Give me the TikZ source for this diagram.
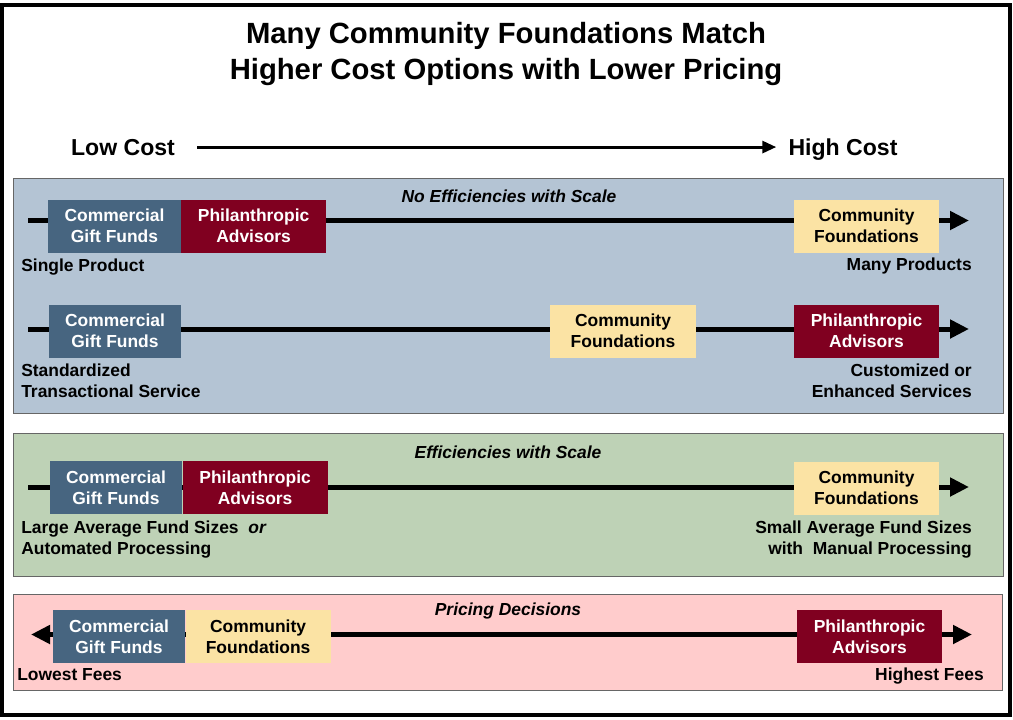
\documentclass[tikz,border=0pt]{standalone}
\usepackage{fontspec}
\setmainfont{Liberation Sans}
\usetikzlibrary{arrows.meta, positioning}

\definecolor{slate}{RGB}{71,101,128}
\definecolor{wine}{RGB}{128,0,32}
\definecolor{sand}{RGB}{251,227,164}
\definecolor{panelblue}{RGB}{180,196,212}
\definecolor{panelgreen}{RGB}{190,210,182}
\definecolor{panelpink}{RGB}{255,204,204}

\tikzset{
  lbl/.style={font=\fontsize{12.4}{15}\selectfont\bfseries, inner sep=0pt},
  hdr/.style={font=\fontsize{12.4}{15}\selectfont\bfseries\itshape, inner sep=0pt},
  cost/.style={font=\fontsize{16.4}{19}\selectfont\bfseries, inner sep=0pt, anchor=base},
  firm/.style={lbl, align=center, minimum height=1.325cm},
  commercial/.style={firm, fill=slate, text=white, minimum width=3.3cm},
  advisor/.style={firm, fill=wine, text=white, minimum width=3.625cm},
  foundation/.style={firm, fill=sand, text=black, minimum width=3.625cm},
  tip/.tip={Triangle[length=0.475cm,width=0.45cm]},
  track/.style={line width=0.125cm, -tip},
  panel/.style={draw=black!60, line width=0.6pt},
}

\begin{document}
\begin{tikzpicture}[x=0.025cm, y=-0.025cm]
  \useasboundingbox (0,0) rectangle (1013,719);
  \draw[line width=0.1cm] (2,5) rectangle (1010,715);

  % title and cost axis
  \node[font=\fontsize{20.8}{25.6}\selectfont\bfseries, align=center] (title) at (506,54)
    {Many Community Foundations Match\\Higher Cost Options with Lower Pricing};
  \node[cost] (lowc) at (123,155) {Low Cost};
  \node[cost] (highc) at (843,155) {High Cost};
  \draw[line width=0.075cm, -{Triangle[length=0.35cm,width=0.3cm]}]
    ([xshift=0.55cm]lowc.east) -- ([xshift=-0.3cm]highc.west |- lowc.east);

  % background panels
  \draw[panel, fill=panelblue] (13,178) rectangle (1003,413);
  \draw[panel, fill=panelgreen] (13,433) rectangle (1003,576);
  \draw[panel, fill=panelpink] (13,594) rectangle (1002,690);
  \node[hdr] (hdr1) at (509,196) {No Efficiencies with Scale};
  \node[hdr] (hdr2) at (508,452) {Efficiencies with Scale};
  \node[hdr] (hdr3) at (508,611) {Pricing Decisions};

  % products
  \coordinate (p1s) at (28,220.5);
  \coordinate (p1e) at (969,220.5);
  \draw[track] (p1s) -- (p1e);
  \node[commercial] (cgf1) at (114.5,226) {Commercial\\Gift Funds};
  \node[advisor, right=0pt of cgf1] (pa1) {Philanthropic\\Advisors};
  \node[foundation] (cf1) at (866.5,226) {Community\\Foundations};
  \node[lbl, anchor=west] (lo1) at (21,267) {Single Product};
  \node[lbl, anchor=east] (hi1) at (972,266) {Many Products};

  % services
  \coordinate (p2s) at (28,329);
  \coordinate (p2e) at (969,329);
  \draw[track] (p2s) -- (p2e);
  \node[commercial] (cgf2) at (115,331) {Commercial\\Gift Funds};
  \node[foundation] (cf2) at (623,331) {Community\\Foundations};
  \node[advisor] (pa2) at (866.5,331) {Philanthropic\\Advisors};
  \node[lbl, anchor=west, align=left] (lo2) at (21,380.5) {Standardized\\Transactional Service};
  \node[lbl, anchor=east, align=right] (hi2) at (972,380.5) {Customized or\\Enhanced Services};

  % fund sizes
  \coordinate (p3s) at (28,487);
  \coordinate (p3e) at (969,487);
  \draw[track] (p3s) -- (p3e);
  \node[commercial] (cgf3) at (116,487.5) {Commercial\\Gift Funds};
  \node[advisor, right=0pt of cgf3] (pa3) {Philanthropic\\Advisors};
  \node[foundation] (cf3) at (866.5,488) {Community\\Foundations};
  \node[lbl, anchor=west, align=left] (lo3) at (21,539.5)
    {Large Average Fund Sizes \ \textit{or}\\Automated Processing};
  \node[lbl, anchor=east, align=right] (hi3) at (972,539.5)
    {Small Average Fund Sizes\\with \ Manual Processing};

  % pricing
  \coordinate (p4s) at (31,634.5);
  \coordinate (p4e) at (972,634.5);
  \draw[track, tip-tip] (p4s) -- (p4e);
  \node[commercial] (cgf4) at (119,636.5) {Commercial\\Gift Funds};
  \node[foundation, right=0pt of cgf4] (cf4) {Community\\Foundations};
  \node[advisor] (pa4) at (869.5,636.5) {Philanthropic\\Advisors};
  \node[lbl, anchor=west] (lo4) at (17,675) {Lowest Fees};
  \node[lbl, anchor=east] (hi4) at (984,676) {Highest Fees};
\end{tikzpicture}
\end{document}
